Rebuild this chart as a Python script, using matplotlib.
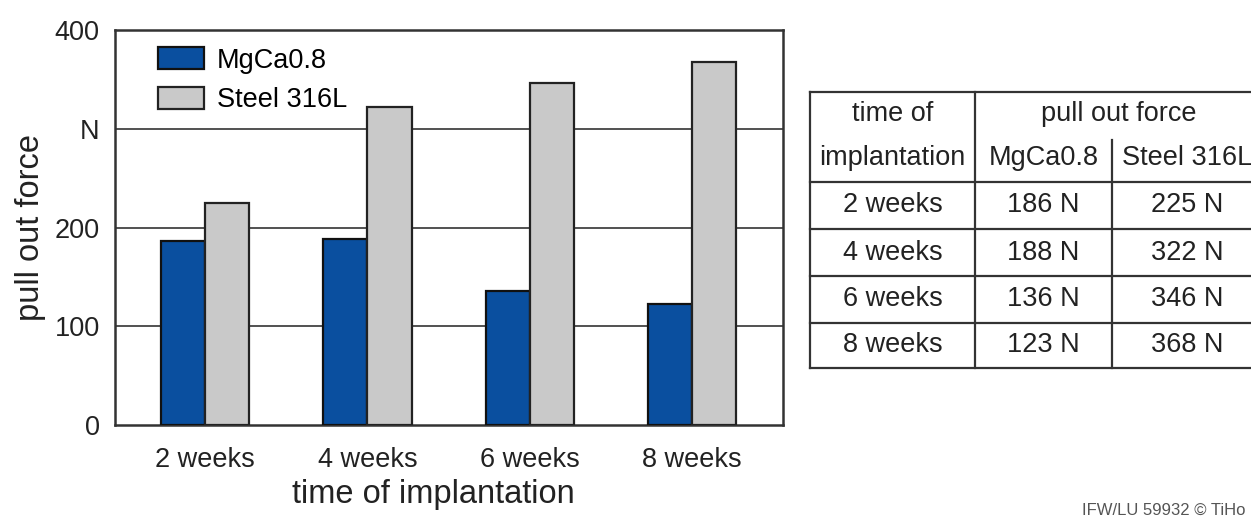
import matplotlib
matplotlib.use("Agg")
import matplotlib.pyplot as plt
from matplotlib.lines import Line2D
from matplotlib.patches import Patch
import numpy as np

# ---- data ----
categories = ["2 weeks", "4 weeks", "6 weeks", "8 weeks"]
mgca = [186, 188, 136, 123]
steel = [225, 322, 346, 368]
series_names = ["MgCa0.8", "Steel 316L"]
ytick_values = [0, 100, 200, 300, 400]
ytick_labels = ["0", "100", "200", "N", "400"]
xlabel = "time of implantation"
ylabel = "pull out force"
table_head1 = ["time of", "pull out force"]
table_head2 = ["implantation", "MgCa0.8", "Steel 316L"]
footnote = "IFW/LU 59932 © TiHo"

plt.rcParams["font.family"] = ["Liberation Sans", "DejaVu Sans"]

W, H = 1251, 516
fig = plt.figure(figsize=(W / 100, H / 100), dpi=100)
fig.patch.set_facecolor("white")

def fx(px):
    return px / W

def fy(py):
    return 1 - py / H

ax = fig.add_axes([fx(115), fy(425), fx(783) - fx(115), fy(30) - fy(425)])

blue = "#0a4f9f"
grey = "#c9c9c9"
x = np.arange(len(categories))
bw = 0.272
ax.bar(x - bw / 2, mgca, width=bw, color=blue, edgecolor="#111111", linewidth=1.6, zorder=3)
ax.bar(x + bw / 2, steel, width=bw, color=grey, edgecolor="#222222", linewidth=1.6, zorder=3)

ax.set_xlim(-0.555, 3.56)
ax.set_ylim(0, 400)
ax.set_yticks(ytick_values)
ax.set_yticklabels(ytick_labels, fontsize=19.5, color="#222222")
ax.set_xticks(x)
ax.set_xticklabels(categories, fontsize=19.5, color="#222222")
ax.tick_params(axis="both", length=0)
ax.tick_params(axis="y", pad=11)
ax.tick_params(axis="x", pad=16)

for v in ytick_values[1:-1]:
    ax.axhline(v, color="#333333", linewidth=1.2, zorder=1)

for s in ax.spines.values():
    s.set_color("#333333")
    s.set_linewidth(1.8)

ax.set_ylabel(ylabel, fontsize=23.5, color="#222222", labelpad=6)
fig.text(fx(433), fy(494), xlabel, ha="center", va="center", fontsize=23.5, color="#222222")

handles = [Patch(facecolor=blue, edgecolor="#111111", linewidth=1.6),
           Patch(facecolor=grey, edgecolor="#222222", linewidth=1.6)]
ax.legend(handles, series_names, loc="upper left", bbox_to_anchor=(fx(153), fy(42)),
          bbox_transform=fig.transFigure, frameon=False, fontsize=19.5,
          handlelength=1.7, handleheight=0.85, handletextpad=0.45, labelspacing=0.5,
          borderaxespad=0, borderpad=0.2)

# ---- table ----
lc = "#333333"
lw = 1.6
def hline(y, x0, x1):
    fig.add_artist(Line2D([fx(x0), fx(x1)], [fy(y), fy(y)], color=lc, linewidth=lw,
                          transform=fig.transFigure))
def vline(xp, y0, y1):
    fig.add_artist(Line2D([fx(xp), fx(xp)], [fy(y0), fy(y1)], color=lc, linewidth=lw,
                          transform=fig.transFigure))

t_left, t_c1, t_c2, t_right = 810, 975, 1112, 1262
row_lines = [92, 182, 229, 276, 323, 368]
for yl in row_lines:
    hline(yl, t_left, t_right)
vline(t_left, 92, 368)
vline(t_c1, 92, 368)
vline(t_c2, 140, 368)

tfs = 19.5
tc = "#222222"
c0 = (t_left + t_c1) / 2
c1 = (t_c1 + t_c2) / 2
c2 = (t_c2 + t_right) / 2
fig.text(fx(c0), fy(114), table_head1[0], ha="center", va="center", fontsize=tfs, color=tc)
fig.text(fx((t_c1 + t_right) / 2), fy(114), table_head1[1], ha="center", va="center", fontsize=tfs, color=tc)
for cx, txt in zip([c0, c1, c2], table_head2):
    fig.text(fx(cx), fy(158), txt, ha="center", va="center", fontsize=tfs, color=tc)
for i, (cat, a, b) in enumerate(zip(categories, mgca, steel)):
    yc = (row_lines[i + 1] + row_lines[i + 2]) / 2
    fig.text(fx(c0), fy(yc), cat, ha="center", va="center", fontsize=tfs, color=tc)
    fig.text(fx(c1), fy(yc), f"{a} N", ha="center", va="center", fontsize=tfs, color=tc)
    fig.text(fx(c2), fy(yc), f"{b} N", ha="center", va="center", fontsize=tfs, color=tc)

fig.text(fx(1246), fy(510), footnote, ha="right", va="center", fontsize=12, color="#555555")

fig.savefig("out.png", dpi=100, facecolor="white")
